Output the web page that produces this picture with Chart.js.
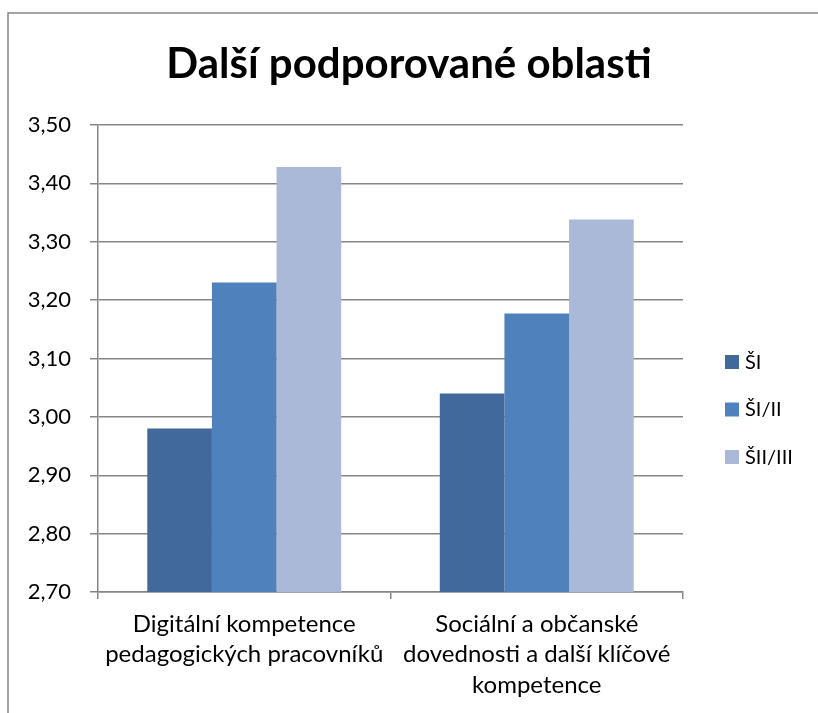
<!DOCTYPE html>
<html>
<head>
<meta charset="utf-8">
<script src="https://cdn.jsdelivr.net/npm/chart.js@4"></script>
<style>
html,body{margin:0;padding:0;background:#fff;overflow:hidden;}
#wrap{width:818px;height:713px;position:relative;overflow:hidden;}
canvas{display:block;}
</style>
</head>
<body>
<div id="wrap"><canvas id="c" width="818" height="713"></canvas></div>
<script>
const titleText = "Další podporované oblasti";
const categories = [
  ["Digitální kompetence", "pedagogických pracovníků"],
  ["Sociální a občanské", "dovednosti a další klíčové", "kompetence"]
];
const seriesNames = ["ŠI", "ŠI/II", "ŠII/III"];
const valuesSI = [2.98, 3.04];
const valuesSIII = [3.23, 3.177];
const valuesSIIIII = [3.428, 3.338];
const yTicks = [2.70, 2.80, 2.90, 3.00, 3.10, 3.20, 3.30, 3.40, 3.50];
const colors = ["#41699C", "#4F81BD", "#AAB9D7"];

const FONT = "Lato, 'Open Sans', sans-serif";

const framePlugin = {
  id: 'frame',
  beforeDraw(chart) {
    const ctx = chart.ctx;
    ctx.save();
    ctx.fillStyle = '#fff';
    ctx.fillRect(0, 0, chart.width, chart.height);
    ctx.strokeStyle = '#868686';
    ctx.lineWidth = 1.5;
    ctx.beginPath();
    ctx.moveTo(8, chart.height + 5);
    ctx.lineTo(8, 13);
    ctx.lineTo(chart.width + 5, 13);
    ctx.stroke();
    ctx.restore();
  }
};

const legendPlugin = {
  id: 'customLegend',
  afterDraw(chart) {
    const ctx = chart.ctx;
    ctx.save();
    chart.data.datasets.forEach((ds, i) => {
      const y = 355 + i * 47.5;
      ctx.fillStyle = ds.backgroundColor;
      ctx.fillRect(725, y, 14, 14);
      ctx.fillStyle = '#000';
      ctx.font = "20px " + FONT;
      ctx.textBaseline = 'middle';
      ctx.textAlign = 'left';
      ctx.fillText(ds.label, 745, y + 7.5);
    });
    ctx.restore();
  }
};

new Chart(document.getElementById('c'), {
  type: 'bar',
  data: {
    labels: categories,
    datasets: [
      { label: seriesNames[0], data: valuesSI, backgroundColor: colors[0] },
      { label: seriesNames[1], data: valuesSIII, backgroundColor: colors[1] },
      { label: seriesNames[2], data: valuesSIIIII, backgroundColor: colors[2] }
    ]
  },
  options: {
    responsive: false,
    animation: false,
    devicePixelRatio: 1,
    layout: { padding: { left: 0, right: 0, top: 0, bottom: 0 } },
    datasets: { bar: { categoryPercentage: 0.663, barPercentage: 1.0, borderWidth: 0 } },
    plugins: {
      legend: { display: false },
      tooltip: { enabled: false },
      title: {
        display: true,
        text: titleText,
        color: '#000',
        font: { family: FONT, size: 42, weight: 'bold', lineHeight: 1.2 },
        padding: { top: 39, bottom: 35.6 }
      }
    },
    scales: {
      x: {
        grid: { display: true, drawOnChartArea: false, drawTicks: true, tickLength: 7, color: '#868686', lineWidth: 1.5 },
        border: { display: true, color: '#868686', width: 1.5 },
        ticks: { color: '#000', font: { family: FONT, size: 24, lineHeight: 1.27 }, padding: 10, maxRotation: 0, autoSkip: false },
        afterFit(scale) { scale.height = 121; }
      },
      y: {
        min: 2.7, max: 3.5,
        afterBuildTicks(scale) { scale.ticks = yTicks.map(v => ({ value: v })); },
        grid: { color: '#868686', lineWidth: 1.5, tickLength: 8, drawTicks: true },
        border: { display: true, color: '#868686', width: 1.5 },
        ticks: {
          color: '#000',
          font: { family: FONT, size: 22 },
          padding: 19,
          callback: v => Number(v).toFixed(2).replace('.', ',')
        },
        afterFit(scale) { scale.width = 98; }
      },
      legendSpace: {
        type: 'linear',
        position: 'right',
        display: true,
        grid: { display: false, drawTicks: false },
        border: { display: false },
        ticks: { display: false },
        afterFit(scale) { scale.width = 135; }
      }
    }
  },
  plugins: [framePlugin, legendPlugin]
});
</script>
</body>
</html>
